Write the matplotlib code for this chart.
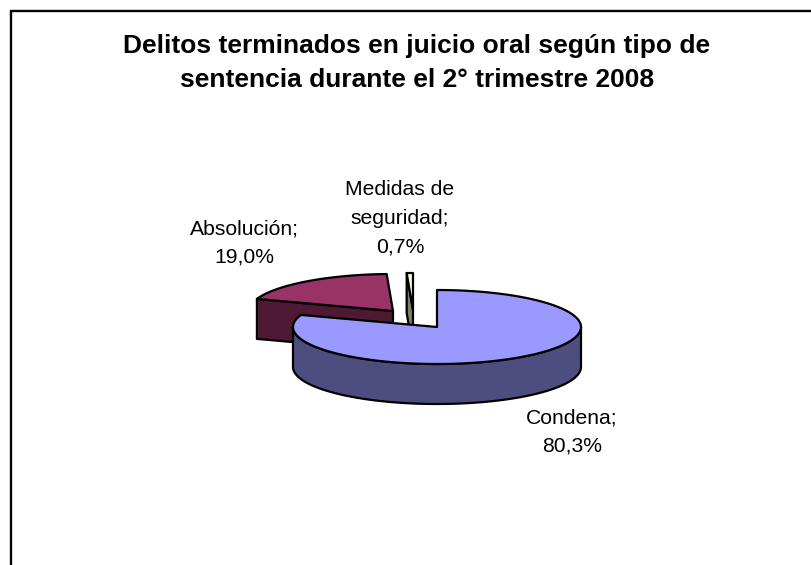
# Delitos terminados en juicio oral - 3D pie drawn by hand
import numpy as np
import matplotlib
matplotlib.use('Agg')
import matplotlib.pyplot as plt
from matplotlib.patches import Polygon

plt.rcParams['font.family'] = ['Liberation Sans', 'DejaVu Sans']

# the data
categorias = ['Condena', 'Absolución', 'Medidas de\nseguridad']
valores = [80.3, 19.0, 0.7]
etiquetas = ['80,3%', '19,0%', '0,7%']
titulo = 'Delitos terminados en juicio oral según tipo de\nsentencia durante el 2° trimestre 2008'

# look of each slice
caras = ['#9999FF', '#993366', '#FFFFCC']
lados = ['#4D4D80', '#4D1933', '#808066']
# slice offset from pie centre, px
desplaza = [(0, 0), (-44, -16), (-24, -17)]
label_pos = [(572, 432), (244, 243), (400, 218)]

cx, cy = 437, 327
rx, ry = 144, 37
prof = 40
lw = 1.6

fig = plt.figure(figsize=(8.11, 5.65), dpi=100)
ax = fig.add_axes([0, 0, 1, 1])
ax.set_xlim(0, 811)
ax.set_ylim(565, 0)
ax.axis('off')

# frame only on top and left
ax.plot([811, 11, 11], [11, 11, 565], color='black', lw=1.7, solid_joinstyle='miter')


def punto(ang, ox, oy):
    # ang in degrees, clockwise from 12 o'clock
    a = np.radians(ang)
    return ox + rx * np.sin(a), oy - ry * np.cos(a)


# slice angles from the values
bordes = np.concatenate([[0], np.cumsum(valores)]) / sum(valores) * 360

# back slices first, main one last so it covers them
for i in [1, 2, 0]:
    ini, fin = bordes[i], bordes[i + 1]
    ox, oy = cx + desplaza[i][0], cy + desplaza[i][1]
    angs = np.linspace(ini, fin, max(int(fin - ini), 2) + 1)
    xs, ys = punto(angs, ox, oy)

    # cut face on the start side, seen only for the slices at the back
    if i > 0:
        x0, y0 = punto(ini, ox, oy)
        cut = [(x0, y0), (ox, oy), (ox, oy + prof), (x0, y0 + prof)]
        ax.add_patch(Polygon(cut, closed=True, fc=lados[i], ec='black', lw=lw, joinstyle='round'))

    # outer rim, only the front half (90..270) shows
    if i == 0:
        frente = np.linspace(90, 270, 120)
        fx, fy = punto(frente, ox, oy)
        rim = np.column_stack([np.r_[fx, fx[::-1]], np.r_[fy, fy[::-1] + prof]])
        ax.add_patch(Polygon(rim, closed=True, fc=lados[i], ec='black', lw=lw, joinstyle='round'))

    cara = np.column_stack([np.r_[ox, xs], np.r_[oy, ys]])
    ax.add_patch(Polygon(cara, closed=True, fc=caras[i], ec='black', lw=lw, joinstyle='round'))

ax.text(417, 63, titulo, ha='center', va='center', multialignment='center', fontsize=19,
        fontweight='bold', linespacing=1.52)

for cat, et, pos in zip(categorias, etiquetas, label_pos):
    ax.text(pos[0], pos[1], cat + ';\n' + et, ha='center', va='center', multialignment='center',
            fontsize=15.2, linespacing=1.66)

plt.savefig('out.png', dpi=100)
